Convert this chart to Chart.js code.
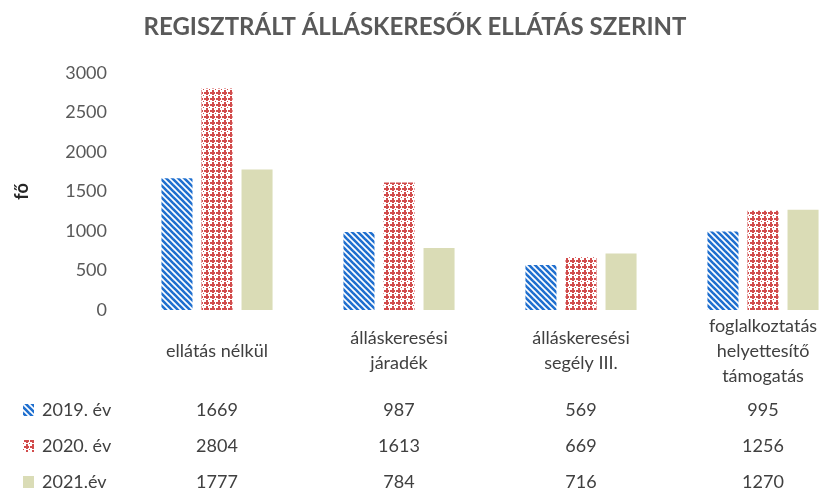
<!DOCTYPE html>
<html>
<head>
<meta charset="utf-8">
<script src="https://cdn.jsdelivr.net/npm/chart.js@4"></script>
<style>
  html, body { margin: 0; padding: 0; background: #fff; overflow: hidden; }
  #wrap { width: 860px; height: 493px; }
</style>
</head>
<body>
<div id="wrap"><canvas id="chart" width="860" height="493"></canvas></div>
<script>
// adatok
const chartTitle = "REGISZTRÁLT ÁLLÁSKERESŐK ELLÁTÁS SZERINT";
const yTitle = "fő";
const categories = [
    ["ellátás nélkül"],
    ["álláskeresési", "járadék"],
    ["álláskeresési", "segély III."],
    ["foglalkoztatás", "helyettesítő", "támogatás"]
];
const seriesNames = ["2019. év", "2020. év", "2021.év"];
const values2019 = [1669, 987, 569, 995];
const values2020 = [2804, 1613, 669, 1256];
const values2021 = [1777, 784, 716, 1270];
const tableValues = [
    ["1669", "987", "569", "995"],
    ["2804", "1613", "669", "1256"],
    ["1777", "784", "716", "1270"]
];

const FONT = "Lato, 'Open Sans', sans-serif";
const TEXT = "#404040";
const GREY = "#595959";

// mintázatok
function stripes(color) {
    const c = document.createElement("canvas");
    c.width = 6; c.height = 6;
    const g = c.getContext("2d");
    g.fillStyle = "#fff";
    g.fillRect(0, 0, 6, 6);
    g.strokeStyle = color;
    g.lineWidth = 2.6;
    for (let o = -6; o <= 6; o += 6) {
        g.beginPath();
        g.moveTo(o - 1, -1);
        g.lineTo(o + 7, 7);
        g.stroke();
    }
    return g.createPattern(c, "repeat");
}

function crosses(color) {
    const c = document.createElement("canvas");
    c.width = 6; c.height = 6;
    const g = c.getContext("2d");
    g.fillStyle = "#fff";
    g.fillRect(0, 0, 6, 6);
    g.fillStyle = color;
    // plusz jel és pöttyök
    g.fillRect(0, 2, 5, 2);
    g.fillRect(2, 0, 2, 5);
    g.fillRect(5, 5, 1, 1);
    return g.createPattern(c, "repeat");
}

const fills = [stripes("#1f6fcf"), crosses("#d24c4c"), "#dadcb6"];

// cím, kategória feliratok és adattábla
const tablePlugin = {
    id: "tablePlugin",
    afterDraw(chart) {
        const ctx = chart.ctx;
        const x = chart.scales.x;
        ctx.save();

        ctx.fillStyle = GREY;
        ctx.font = "bold 24px " + FONT;
        ctx.textAlign = "center";
        ctx.textBaseline = "middle";
        ctx.fillText(chartTitle, 415, 27, 594);

        ctx.fillStyle = TEXT;
        ctx.font = "18px " + FONT;
        categories.forEach((lines, i) => {
            const cx = x.getPixelForValue(i);
            const lh = 25;
            const y0 = 351 - (lines.length - 1) * lh / 2;
            lines.forEach((t, k) => ctx.fillText(t, cx, y0 + k * lh));
        });

        const rowY = [410, 446, 482];
        seriesNames.forEach((name, r) => {
            ctx.fillStyle = fills[r];
            ctx.fillRect(23, rowY[r] - 6, 11, 12);
            ctx.fillStyle = TEXT;
            ctx.textAlign = "left";
            ctx.fillText(name, 42, rowY[r]);
            ctx.textAlign = "center";
            tableValues[r].forEach((v, i) => {
                ctx.fillText(v, x.getPixelForValue(i), rowY[r]);
            });
        });
        ctx.restore();
    }
};

const datasets = [values2019, values2020, values2021].map((data, i) => ({
    label: seriesNames[i],
    data,
    backgroundColor: fills[i],
    borderWidth: 0,
    categoryPercentage: 0.66,
    barPercentage: 0.775
}));

new Chart(document.getElementById("chart").getContext("2d"), {
    type: "bar",
    data: { labels: categories.map(l => l.join(" ")), datasets },
    options: {
        responsive: false,
        animation: false,
        layout: { padding: { top: 73, right: 6, bottom: 183, left: 0 } },
        plugins: {
            legend: { display: false },
            title: { display: false },
            tooltip: { enabled: false }
        },
        scales: {
            x: { display: false },
            y: {
                min: 0,
                max: 3000,
                ticks: {
                    stepSize: 500,
                    padding: 19,
                    color: GREY,
                    font: { family: FONT, size: 18 },
                    callback: v => String(v)
                },
                grid: { display: false, drawTicks: false },
                border: { display: false },
                title: {
                    display: true,
                    text: yTitle,
                    color: "#262626",
                    padding: { top: 11, bottom: 0 },
                    font: { family: FONT, size: 18, weight: "bold" }
                },
                afterFit(scale) { scale.width = 126; }
            }
        }
    },
    plugins: [tablePlugin]
});
</script>
</body>
</html>
